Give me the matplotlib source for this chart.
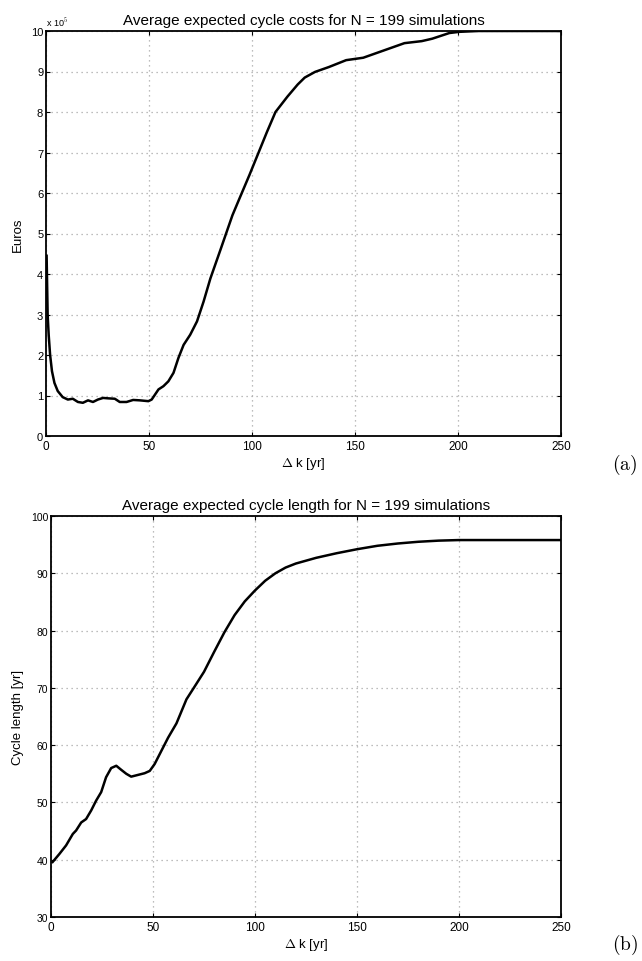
import matplotlib
matplotlib.use("Agg")
import matplotlib.pyplot as plt

plt.rcParams['font.family'] = ['Liberation Sans', 'DejaVu Sans']
plt.rcParams['mathtext.fontset'] = 'cm'

# average expected cycle costs (x 1e5 Euros) vs delta k
dk_cost = [0.3, 0.8, 1.3, 2.0, 2.9, 4.1, 5.7, 8.1, 10.6, 13.0, 15.5, 17.9, 20.4, 22.8,
           25.2, 27.7, 30.1, 33.4, 35.8, 39.1, 42.3, 45.6, 49.7, 51.3, 54.6, 57.0,
           59.4, 61.9, 64.3, 66.8, 70.0, 73.3, 76.5, 79.8, 84.7, 90.5, 93.8, 98.8,
           107.2, 111.4, 117.2, 122.2, 125.6, 130.6, 137.3, 145.7, 154.0, 164.0,
           174.0, 182.4, 187.5, 195.8, 200.8, 210.0, 250.0]
cost = [4.45, 2.99, 2.5, 2.0, 1.6, 1.31, 1.11, 0.96, 0.90, 0.92, 0.84, 0.82, 0.88, 0.84,
        0.90, 0.94, 0.93, 0.92, 0.84, 0.84, 0.89, 0.88, 0.86, 0.90, 1.15, 1.23,
        1.35, 1.56, 1.93, 2.25, 2.5, 2.83, 3.32, 3.89, 4.6, 5.45, 5.85, 6.45,
        7.5, 8.0, 8.38, 8.68, 8.85, 8.99, 9.11, 9.28, 9.34, 9.52,
        9.70, 9.75, 9.81, 9.95, 9.98, 10.0, 10.0]

# average expected cycle length [yr] vs delta k
dk_len = [0.8, 4.1, 7.4, 10.7, 12.3, 14.8, 17.2, 19.7, 22.1, 24.6, 27.0, 29.5, 32.0,
          34.4, 36.9, 39.3, 42.6, 45.9, 48.4, 50.8, 54.1, 57.4, 61.5, 66.4, 70.0,
          75.0, 80.0, 85.0, 90.0, 95.0, 100.0, 105.0, 110.0, 115.0, 120.0, 130.0,
          140.0, 150.0, 160.0, 170.0, 180.0, 190.0, 200.0, 250.0]
cyc_len = [39.6, 41.0, 42.5, 44.5, 45.1, 46.5, 47.1, 48.6, 50.3, 51.8, 54.4, 56.0, 56.4,
           55.7, 55.0, 54.5, 54.8, 55.1, 55.5, 56.7, 59.0, 61.3, 63.8, 68.0, 70.0,
           72.8, 76.3, 79.7, 82.7, 85.1, 87.0, 88.7, 90.0, 91.0, 91.7, 92.7,
           93.5, 94.2, 94.8, 95.2, 95.5, 95.7, 95.8, 95.8]

xticks = [0, 50, 100, 150, 200, 250]


def style(ax, ylo, yhi, ystep, ysize):
    ax.set_xlim(0, 250)
    ax.set_ylim(ylo, yhi)
    ax.set_xticks(xticks)
    ax.set_yticks(range(ylo, yhi + 1, ystep))
    ax.grid(True, color='#a8a8a8', linestyle=(0, (1, 3)), linewidth=0.9)
    ax.tick_params(direction='in', top=True, right=True, length=3, width=0.8)
    ax.tick_params(axis='x', labelsize=8.5, pad=3)
    ax.tick_params(axis='y', labelsize=ysize, pad=2)
    for s in ax.spines.values():
        s.set_linewidth(1.3)


fig = plt.figure(figsize=(6.42, 9.62), dpi=100)

ax1 = fig.add_axes([46 / 642, 1 - 437 / 962, 515 / 642, 405 / 962])
ax1.plot(dk_cost, cost, color='black', linewidth=1.8)
style(ax1, 0, 10, 1, 8)
ax1.set_title('Average expected cycle costs for N = 199 simulations', fontsize=11, pad=5)
ax1.set_xlabel(r'$\Delta$ k [yr]', fontsize=9.5, labelpad=2)
ax1.set_ylabel('Euros', fontsize=9.5, labelpad=5)
fig.text(46 / 642, 1 - 23 / 962, r'x 10$^5$', fontsize=6.5, va='center', ha='left')
fig.text(625 / 642, 1 - 465 / 962, r'$\mathrm{(a)}$', fontsize=14, ha='center', va='center')

ax2 = fig.add_axes([51 / 642, 1 - 918 / 962, 510 / 642, 401 / 962])
ax2.plot(dk_len, cyc_len, color='black', linewidth=1.8)
style(ax2, 30, 100, 10, 7.5)
ax2.set_title('Average expected cycle length for N = 199 simulations', fontsize=11, pad=5)
ax2.set_xlabel(r'$\Delta$ k [yr]', fontsize=9.5, labelpad=2)
ax2.set_ylabel('Cycle length [yr]', fontsize=9.5, labelpad=5)
fig.text(625 / 642, 1 - 945 / 962, r'$\mathrm{(b)}$', fontsize=14, ha='center', va='center')

fig.savefig('out.png', dpi=100)
